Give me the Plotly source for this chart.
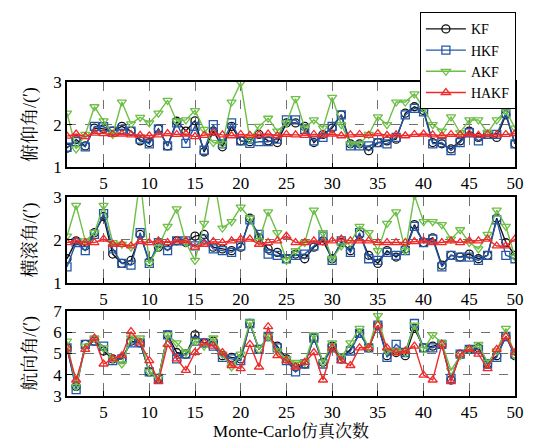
import plotly.graph_objects as go
from plotly.subplots import make_subplots

runs = list(range(1, 51))

# 俯仰角误差
pitch_kf = [1.45, 1.65, 1.5, 1.92, 1.9, 1.85, 1.96, 1.85, 1.62, 1.58, 1.9, 1.5, 2.08, 1.85, 2.09, 1.36, 1.85, 1.48, 1.96, 1.62,
            1.6, 1.77, 1.62, 1.58, 2.04, 2.04, 1.96, 1.58, 1.77, 1.92, 2.23, 1.55, 1.55, 1.39, 1.58, 1.62, 1.66, 2.27, 2.42, 2.33,
            1.58, 1.55, 1.43, 1.62, 1.85, 1.7, 1.77, 1.7, 2.23, 1.55]
pitch_hkf = [1.47, 1.6, 1.48, 1.96, 1.95, 1.85, 1.89, 1.85, 1.66, 1.55, 1.9, 1.5, 2.04, 1.56, 1.96, 1.4, 2.0, 1.55, 2.04, 1.62,
             1.56, 1.6, 1.6, 1.66, 2.11, 2.11, 1.89, 1.62, 1.7, 1.96, 2.23, 1.5, 1.5, 1.5, 1.58, 1.55, 1.7, 2.23, 2.38, 2.3,
             1.55, 1.58, 1.39, 1.58, 1.81, 1.62, 1.77, 1.77, 2.27, 1.55]
pitch_akf = [2.27, 1.43, 1.77, 2.42, 2.09, 1.77, 2.53, 2.02, 2.17, 2.04, 2.27, 2.57, 2.08, 2.11, 2.33, 1.89, 1.58, 1.55, 2.53, 2.98,
             1.66, 1.96, 2.15, 1.85, 2.04, 2.61, 1.92, 2.11, 1.92, 2.64, 2.0, 1.55, 1.55, 1.77, 2.18, 2.0, 2.53, 2.53, 2.72, 2.38,
             2.0, 1.85, 2.18, 1.81, 2.11, 2.11, 1.81, 2.11, 2.33, 1.92]
pitch_hakf = [1.73, 1.78, 1.72, 1.8, 1.79, 1.77, 1.78, 1.76, 1.75, 1.74, 1.76, 1.79, 1.77, 1.78, 1.72, 1.75, 1.8, 1.76, 1.74, 1.77,
              1.75, 1.76, 1.78, 1.74, 1.77, 1.76, 1.75, 1.77, 1.76, 1.78, 1.74, 1.76, 1.77, 1.75, 1.79, 1.75, 1.76, 1.74, 1.77, 1.78,
              1.76, 1.74, 1.77, 1.76, 1.78, 1.75, 1.77, 1.76, 1.77, 1.79]

# 横滚角误差
roll_kf = [1.56, 1.98, 1.86, 2.17, 2.55, 1.67, 1.45, 1.52, 2.13, 1.49, 1.83, 1.86, 1.98, 1.94, 2.09, 2.13, 1.83, 1.79, 1.75, 1.83,
           2.51, 2.05, 1.79, 1.71, 1.56, 1.67, 1.56, 1.83, 1.98, 1.56, 1.94, 1.75, 2.13, 1.64, 1.45, 1.75, 1.6, 1.79, 2.36, 1.94,
           2.05, 1.41, 1.64, 1.6, 1.67, 1.56, 1.64, 2.51, 1.94, 1.64]
roll_hkf = [1.37, 1.94, 1.75, 2.13, 2.62, 1.79, 1.45, 1.41, 2.17, 1.45, 1.94, 1.75, 1.98, 1.98, 1.86, 2.02, 1.79, 1.75, 1.71, 1.86,
            2.47, 2.13, 1.67, 1.64, 1.56, 1.64, 1.67, 1.86, 2.09, 1.52, 1.98, 1.71, 2.17, 1.56, 1.52, 1.71, 1.64, 1.75, 2.32, 1.94,
            2.02, 1.37, 1.64, 1.6, 1.6, 1.52, 1.64, 2.47, 1.64, 1.56]
roll_akf = [2.09, 2.81, 1.98, 2.17, 2.81, 1.94, 1.9, 1.83, 3.45, 1.45, 1.83, 2.32, 2.73, 1.94, 1.52, 2.39, 3.55, 2.28, 2.43, 2.77,
            2.51, 1.98, 2.66, 2.17, 1.52, 1.75, 1.94, 2.7, 2.17, 1.56, 1.86, 1.94, 2.32, 2.17, 1.75, 2.39, 2.66, 1.75, 3.05, 2.43,
            2.43, 2.36, 2.02, 2.24, 1.94, 1.79, 2.13, 2.7, 2.32, 1.6]
roll_hakf = [1.94, 1.98, 1.94, 1.94, 2.02, 1.9, 1.9, 1.86, 1.96, 1.94, 1.98, 1.94, 1.98, 1.98, 1.83, 1.9, 1.96, 1.94, 1.98, 2.02,
             2.02, 1.9, 1.94, 1.98, 2.09, 1.94, 1.94, 1.98, 1.94, 1.98, 2.02, 1.98, 1.98, 1.98, 1.94, 1.94, 1.94, 1.94, 1.96, 1.98,
             1.94, 1.94, 1.98, 1.94, 1.98, 1.98, 2.02, 1.86, 1.86, 2.02]

# 航向角误差
yaw_kf = [5.26, 3.45, 5.42, 5.57, 5.11, 4.74, 4.74, 5.57, 5.49, 4.13, 3.83, 5.87, 5.04, 4.96, 5.87, 5.49, 5.57, 4.89, 4.81, 4.74,
          6.4, 5.19, 5.79, 5.34, 4.74, 4.36, 4.5, 5.72, 4.58, 5.34, 4.74, 5.19, 5.94, 5.26, 6.32, 4.89, 5.04, 4.89, 6.17, 5.26,
          5.34, 5.42, 3.75, 4.96, 5.19, 5.26, 4.5, 4.89, 5.79, 4.89]
yaw_hkf = [5.26, 3.3, 5.42, 5.57, 5.34, 4.66, 4.74, 5.49, 5.49, 4.13, 3.83, 5.87, 4.74, 4.96, 5.57, 5.49, 5.34, 4.81, 4.74, 4.66,
           6.4, 5.19, 5.79, 5.26, 4.66, 4.13, 4.5, 5.72, 4.5, 5.26, 4.74, 5.11, 5.94, 5.26, 6.32, 4.81, 5.42, 5.04, 6.4, 5.26,
           5.26, 5.42, 3.83, 4.96, 5.19, 5.19, 4.5, 4.81, 5.79, 4.96]
yaw_akf = [5.57, 3.45, 5.34, 5.72, 5.26, 4.74, 4.5, 5.72, 5.72, 4.13, 3.83, 5.87, 5.49, 5.04, 5.57, 5.34, 5.72, 4.96, 4.36, 4.96,
           6.47, 5.19, 5.79, 5.11, 4.74, 4.58, 4.58, 5.87, 4.58, 5.49, 4.81, 5.49, 6.17, 5.26, 6.77, 5.11, 5.11, 5.04, 6.32, 5.19,
           5.87, 5.49, 4.2, 4.89, 5.19, 5.42, 4.58, 5.11, 6.17, 4.89]
yaw_hakf = [5.26, 3.75, 5.19, 5.72, 4.5, 4.74, 4.89, 6.02, 5.49, 4.66, 3.68, 5.42, 4.74, 4.2, 5.04, 5.49, 5.34, 5.04, 4.43, 4.28,
            5.42, 4.36, 6.25, 4.89, 4.66, 4.36, 4.58, 5.04, 3.75, 5.26, 4.66, 4.43, 5.26, 5.26, 6.32, 5.26, 5.04, 5.11, 5.34, 3.98,
            3.75, 5.42, 3.68, 4.96, 5.19, 4.96, 4.28, 5.19, 5.79, 5.04]

methods = ["KF", "HKF", "AKF", "HAKF"]
colors = {"KF": "#111111", "HKF": "#2456a6", "AKF": "#6dbf45", "HAKF": "#f02a2a"}
symbols = {"KF": "circle-open", "HKF": "square-open", "AKF": "triangle-down-open", "HAKF": "triangle-up-open"}

panels = [
    ("俯仰角/(′)", [pitch_kf, pitch_hkf, pitch_akf, pitch_hakf], [1, 3], [1, 2, 3]),
    ("横滚角/(′)", [roll_kf, roll_hkf, roll_akf, roll_hakf], [1, 3], [1, 2, 3]),
    ("航向角/(′)", [yaw_kf, yaw_hkf, yaw_akf, yaw_hakf], [3, 7], [3, 4, 5, 6, 7]),
]

font_family = "Liberation Serif, Noto Serif CJK SC, Noto Sans CJK SC, serif"

fig = make_subplots(rows=3, cols=1, shared_xaxes=False, vertical_spacing=0.05)

for row, (title, series, yr, yt) in enumerate(panels, start=1):
    for name, vals in zip(methods, series):
        fig.add_trace(
            go.Scatter(
                x=runs, y=vals, mode="lines+markers", name=name,
                line=dict(color=colors[name], width=1.4),
                marker=dict(symbol=symbols[name], size=8, color=colors[name],
                            line=dict(width=1.3, color=colors[name])),
                showlegend=(row == 1),
                legendgroup=name,
            ),
            row=row, col=1,
        )
    fig.update_yaxes(
        row=row, col=1, range=yr, tickvals=yt,
        title=dict(text=title, font=dict(size=18, family=font_family), standoff=12),
    )

domains = [[0.7284, 1.0], [0.3611, 0.6327], [0.0, 0.2716]]
for i, dom in enumerate(domains, start=1):
    fig.layout[f"yaxis{'' if i == 1 else i}"].domain = dom

axis_common = dict(
    showline=True, linecolor="black", linewidth=1.5, mirror=True,
    ticks="inside", ticklen=5, tickcolor="black",
    showgrid=True, gridcolor="#707070", griddash="dash", gridwidth=1,
    zeroline=False,
    tickfont=dict(size=17, family=font_family, color="black"),
)
fig.update_xaxes(range=[1, 50], tickvals=[5, 10, 15, 20, 25, 30, 35, 40, 45, 50], **axis_common)
fig.update_yaxes(**axis_common)
fig.update_xaxes(row=3, col=1, title=dict(text="Monte-Carlo仿真次数",
                                         font=dict(size=17, family=font_family), standoff=2))

fig.update_layout(
    width=536, height=448,
    margin=dict(l=67, r=17, t=76, b=48),
    paper_bgcolor="white", plot_bgcolor="white",
    font=dict(family=font_family, color="black"),
    legend=dict(
        x=1.002, xanchor="right", y=1.222, yanchor="top",
        bgcolor="white", bordercolor="black", borderwidth=1,
        font=dict(size=14, family=font_family),
        tracegroupgap=0, itemwidth=40,
    ),
)

fig.write_html("out.html")
